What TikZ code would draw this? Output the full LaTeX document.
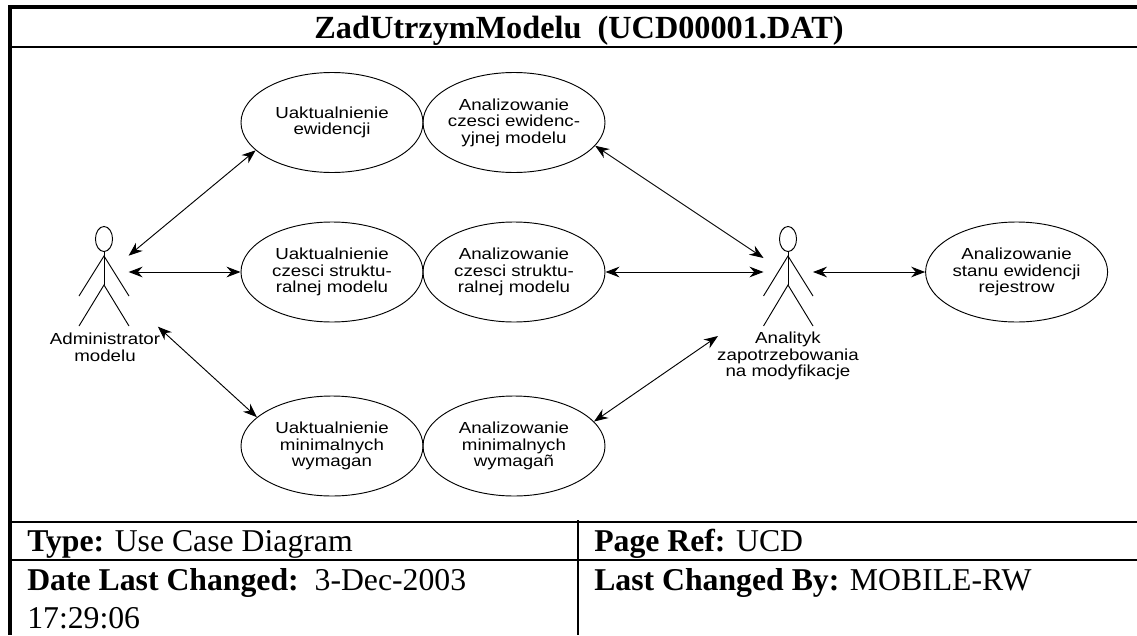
\documentclass[tikz,border=0pt]{standalone}
\usepackage{fontspec}
\setmainfont{Liberation Serif}
\setsansfont{Liberation Sans}[FakeStretch=1.17]
\usetikzlibrary{shapes.geometric,arrows.meta}

\begin{document}
\begin{tikzpicture}[x=0.75pt,y=-0.75pt,
	usecase/.style={ellipse, draw=black, line width=0.7pt, minimum width=136.5pt, minimum height=75pt, inner sep=-15pt, align=center, font=\sffamily\fontsize{12}{12.4}\selectfont, execute at begin node={\vspace*{2.2pt}}},
	head/.style={ellipse, draw=black, line width=0.7pt, minimum width=12.8pt, minimum height=18.8pt, inner sep=0pt},
	limb/.style={line width=0.7pt},
	actorlabel/.style={align=center, inner sep=0pt, font=\sffamily\fontsize{12}{12.4}\selectfont},
	link/.style={line width=0.7pt, {Stealth[length=10.5pt,width=8pt,inset=3.5pt]}-{Stealth[length=10.5pt,width=8pt,inset=3.5pt]}},
	frame/.style={line width=1.5pt},
	boxtext/.style={anchor=base west, inner sep=0pt, font=\fontsize{23.8}{27}\selectfont}]
	\useasboundingbox (0,0) rectangle (1137,635);

	\draw[line width=3.4pt] (1137,7.2) -- (10.2,7.2) -- (10.2,635);
	\draw[frame] (12,47) -- (1137,47);
	\draw[frame] (12,521.7) -- (1137,521.7);
	\draw[frame] (12,560) -- (1137,560);
	\draw[frame] (578,520) -- (578,635);

	\node (title) [anchor=base, inner sep=0pt, font=\bfseries\fontsize{24.2}{27}\selectfont] at (579,39) {ZadUtrzymModelu\ \ (UCD00001.DAT)};

	\node (evidupdate) [usecase] at (332,122.5) {Uaktualnienie\\ewidencji};
	\node (evidanalyse) [usecase] at (514,122.5) {Analizowanie\\czesci ewidenc-\\yjnej modelu};
	\node (structupdate) [usecase] at (332,272) {Uaktualnienie\\czesci struktu-\\ralnej modelu};
	\node (structanalyse) [usecase] at (514,272) {Analizowanie\\czesci struktu-\\ralnej modelu};
	\node (minupdate) [usecase] at (332,446) {Uaktualnienie\\minimalnych\\wymagan};
	\node (minanalyse) [usecase] at (514,446) {Analizowanie\\minimalnych\\wymaga\~n};
	\node (stateanalyse) [usecase] at (1016.6,272) {Analizowanie\\stanu ewidencji\\rejestrow};

	\node (admin) [head] at (104,239) {};
	\coordinate (adminneck) at (104,256);
	\coordinate (adminhip) at (104,285);
	\draw[limb] (admin.south) -- (adminhip);
	\draw[limb] (79,296) -- (adminneck) -- (129,296);
	\draw[limb] (79,326) -- (adminhip) -- (129,326);
	\node (adminlabel) [actorlabel] at (105,347.5) {Administrator\\modelu};

	\node (analyst) [head] at (788,239) {};
	\coordinate (analystneck) at (788,256);
	\coordinate (analysthip) at (788,285);
	\draw[limb] (analyst.south) -- (analysthip);
	\draw[limb] (763.5,296) -- (analystneck) -- (813,296);
	\draw[limb] (763.5,326) -- (analysthip) -- (813,326);
	\node (analystlabel) [actorlabel] at (788,356) {Analityk\\zapotrzebowania\\na modyfikacje};

	\coordinate (adminA) at (128.6,255.7);
	\coordinate (adminB) at (128.6,272);
	\coordinate (adminC) at (157.9,326.7);
	\coordinate (analystA) at (763.5,258);
	\coordinate (analystB) at (763.5,272);
	\coordinate (analystC) at (718,336);
	\coordinate (analystD) at (813,272);

	\draw[link] (adminA) -- (evidupdate.200);
	\draw[link] (adminB) -- (structupdate.west);
	\draw[link] (adminC) -- (minupdate.159);
	\draw[link] (evidanalyse.-16) -- (analystA);
	\draw[link] (structanalyse.east) -- (analystB);
	\draw[link] (minanalyse.17) -- (analystC);
	\draw[link] (analystD) -- (stateanalyse.west);

	\node (type) [boxtext] at (27,551.7) {\textbf{Type:} Use Case Diagram};
	\node (pageref) [boxtext] at (594,551.7) {\textbf{Page Ref:} UCD};
	\node (date) [boxtext] at (27,590.7) {\textbf{Date Last Changed:}\ \ 3-Dec-2003};
	\node (time) [boxtext] at (27,628) {17:29:06};
	\node (changedby) [boxtext] at (594,590.7) {\textbf{Last Changed By:} MOBILE-RW};
\end{tikzpicture}
\end{document}
